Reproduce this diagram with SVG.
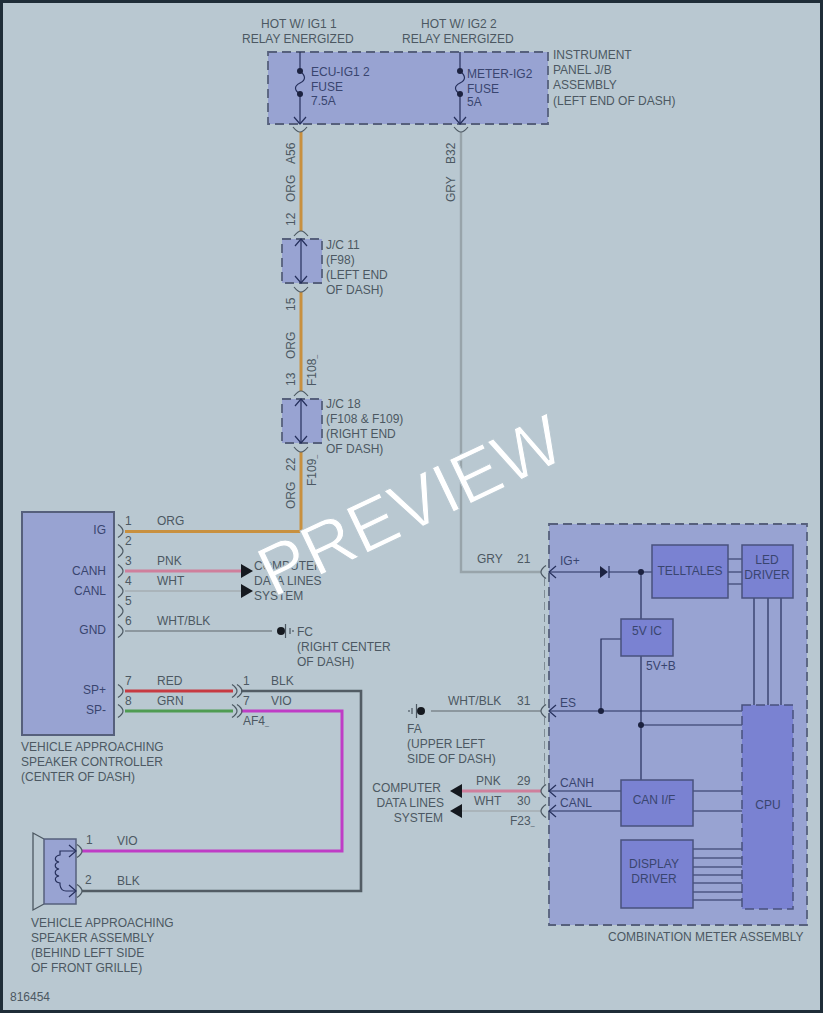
<svg xmlns="http://www.w3.org/2000/svg" xmlns:xlink="http://www.w3.org/1999/xlink" width="823" height="1013" viewBox="0 0 823 1013">
<style>
text{font-family:"Liberation Sans",Arial,sans-serif;font-size:12px;fill:#4c5862}
.i{fill:#39456f}
.m{text-anchor:middle}
.e{text-anchor:end}
.n{fill:none;stroke:#26305c;stroke-width:1.2}
.c{fill:none;stroke:#4c5862;stroke-width:1.2}
.j{fill:#98a3d2;stroke:#56607c;stroke-width:1.8;stroke-dasharray:9 5}
.b{fill:#7a82d2;stroke:#48527e;stroke-width:1.5}
.w{fill:none;stroke-width:3}
.org{stroke:#c8903f}.pnk{stroke:#cf7f9c}.wht{stroke:#aab4ba;stroke-width:2}.gry{stroke:#98a4aa;stroke-width:2.4}
.wb{stroke:#8c979e;stroke-width:2}.red{stroke:#c73a42}.grn{stroke:#4f9c52}.vio{stroke:#bf3cc6}.blk{stroke:#525c64;stroke-width:2.6}
.dot{fill:#1c2240}
.mark{font-size:7px}
.wm{font-size:71px;fill:#fff;stroke:#b9c8d1;stroke-width:1}
</style>
<defs>
<path id="ar" d="M0 -6.5Q5 -3 5 0Q5 3 0 6.5" class="c"/>
<path id="al" d="M5 -6.5Q0 -3 0 0Q0 3 5 6.5" class="c"/>
<path id="au" d="M-7 0Q-3 5 0 5Q3 5 7 0" class="c"/>
<path id="ad" d="M-7 5Q-3 0 0 0Q3 0 7 5" class="c"/>
<path id="hd" d="M-6 -7L0 0L6 -7" class="n"/>
<path id="hu" d="M-6 7L0 0L6 7" class="n"/>
<path id="hl" d="M7 -6L0 0L7 6" class="n"/>
<path id="hr" d="M-7 -6L0 0L-7 6" class="n"/>
<path id="tr" d="M0 -7L12 0L0 7Z" fill="#15191f"/>
<path id="tl" d="M12 -7L0 0L12 7Z" fill="#15191f"/>
</defs>
<rect x="1.500" y="1.500" width="820" height="1010" fill="#b9c8d1" stroke="#1f2d38" stroke-width="3"/>

<g id="connectors">
<path class="w org" d="M301 132V231M301 292V391M301 452V531.500H125"/>
<path class="w gry" d="M461 132V572H541"/>
<path class="w pnk" d="M125 571H241"/>
<path class="w wht" d="M125 591H241"/>
<path class="w wb" d="M125 631H272"/>
<path class="w red" d="M125 691H233"/>
<path class="w grn" d="M125 711H233"/>
<path class="w blk" d="M241 691H361V891H82"/>
<path class="w vio" d="M241 711H342V851H82"/>
<path class="w wb" d="M431 711H541"/>
<path class="w pnk" d="M462 791H541"/>
<path class="w wht" d="M462 811H541"/>
<use xlink:href="#tr" x="241" y="571"/>
<use xlink:href="#tr" x="241" y="591"/>
<use xlink:href="#tl" x="450" y="791"/>
<use xlink:href="#tl" x="450" y="811"/>
<use xlink:href="#au" x="300" y="127"/>
<use xlink:href="#au" x="461" y="127"/>
<use xlink:href="#ad" x="301" y="231"/>
<use xlink:href="#au" x="301" y="287"/>
<use xlink:href="#ad" x="301" y="391"/>
<use xlink:href="#au" x="301" y="447"/>
<use xlink:href="#ar" x="118" y="531"/>
<use xlink:href="#ar" x="118" y="551"/>
<use xlink:href="#ar" x="118" y="571"/>
<use xlink:href="#ar" x="118" y="591"/>
<use xlink:href="#ar" x="118" y="611"/>
<use xlink:href="#ar" x="118" y="631"/>
<use xlink:href="#ar" x="118" y="691"/>
<use xlink:href="#ar" x="118" y="711"/>
<use xlink:href="#ar" x="232" y="691"/>
<use xlink:href="#ar" x="237" y="691"/>
<use xlink:href="#ar" x="232" y="711"/>
<use xlink:href="#ar" x="237" y="711"/>
<use xlink:href="#ar" x="77" y="851"/>
<use xlink:href="#ar" x="77" y="891"/>
<use xlink:href="#al" x="541" y="572"/>
<use xlink:href="#al" x="541" y="711"/>
<use xlink:href="#al" x="541" y="791"/>
<use xlink:href="#al" x="541" y="811"/>
<path d="M544.500 578V705M544.500 717V785" fill="none" stroke="#7f8c95" stroke-width="1" stroke-dasharray="8 4"/>
</g>

<g id="labels-hot">
<text x="261" y="28">HOT W/ IG1 1</text><text x="242" y="43">RELAY ENERGIZED</text>
<text x="421" y="28">HOT W/ IG2 2</text><text x="402" y="43">RELAY ENERGIZED</text>
</g>

<g id="junction-block">
<rect class="j" x="268" y="52" width="280" height="72"/>
<path class="n" d="M300 52V71C306 76 306 80 300 83C294 86 294 90 300 94V124"/>
<path class="n" d="M460 52V71C466 76 466 80 460 83C454 86 454 90 460 94V124"/>
<circle class="dot" cx="300" cy="71" r="3"/><circle class="dot" cx="300" cy="94" r="3"/>
<circle class="dot" cx="460" cy="71" r="3"/><circle class="dot" cx="460" cy="94" r="3"/>
<use xlink:href="#hd" x="300" y="124"/><use xlink:href="#hd" x="460" y="124"/>
<text class="i" x="311" y="76">ECU-IG1 2</text><text class="i" x="311" y="91">FUSE</text><text class="i" x="311" y="105">7.5A</text>
<text class="i" x="467" y="78">METER-IG2</text><text class="i" x="467" y="93">FUSE</text><text class="i" x="467" y="106">5A</text>
<text x="553" y="59">INSTRUMENT</text><text x="553" y="74">PANEL J/B</text><text x="553" y="89">ASSEMBLY</text><text x="553" y="105">(LEFT END OF DASH)</text>
</g>

<g id="wire-labels-vertical">
<text transform="translate(295,164) rotate(-90)">A56</text>
<text transform="translate(295,202) rotate(-90)">ORG</text>
<text transform="translate(455,164) rotate(-90)">B32</text>
<text transform="translate(455,202) rotate(-90)">GRY</text>
<text transform="translate(295,226) rotate(-90)">12</text>
<text transform="translate(295,311) rotate(-90)">15</text>
<text transform="translate(295,359) rotate(-90)">ORG</text>
<text transform="translate(295,386) rotate(-90)">13</text>
<text transform="translate(316,386) rotate(-90)">F108<tspan class="mark">_</tspan></text>
<text transform="translate(295,471) rotate(-90)">22</text>
<text transform="translate(295,509) rotate(-90)">ORG</text>
<text transform="translate(316,486) rotate(-90)">F109<tspan class="mark">_</tspan></text>
</g>

<g id="jc-11">
<rect class="j" x="282" y="239" width="40" height="44"/>
<path class="n" d="M301 239V283"/><use xlink:href="#hu" x="301" y="239"/><use xlink:href="#hd" x="301" y="283"/>
<text x="326" y="249">J/C 11</text><text x="326" y="264">(F98)</text><text x="326" y="279">(LEFT END</text><text x="326" y="294">OF DASH)</text>
</g>
<g id="jc-18">
<rect class="j" x="282" y="399" width="40" height="44"/>
<path class="n" d="M301 399V443"/><use xlink:href="#hu" x="301" y="399"/><use xlink:href="#hd" x="301" y="443"/>
<text x="326" y="408">J/C 18</text><text x="326" y="423">(F108 &amp; F109)</text><text x="326" y="438">(RIGHT END</text><text x="326" y="453">OF DASH)</text>
</g>

<g id="controller">
<rect x="22" y="512" width="92" height="223" fill="#98a3d2" stroke="#56607c" stroke-width="2"/>
<text class="i e" x="106" y="534">IG</text><text class="i e" x="106" y="575">CANH</text><text class="i e" x="106" y="595">CANL</text>
<text class="i e" x="106" y="634">GND</text><text class="i e" x="106" y="694">SP+</text><text class="i e" x="106" y="714">SP-</text>
<text x="21" y="751">VEHICLE APPROACHING</text><text x="21" y="766">SPEAKER CONTROLLER</text><text x="21" y="781">(CENTER OF DASH)</text>
</g>

<g id="controller-wire-labels">
<text x="125" y="525">1</text><text x="125" y="545">2</text><text x="125" y="565">3</text><text x="125" y="585">4</text><text x="125" y="605">5</text><text x="125" y="625">6</text><text x="125" y="685">7</text><text x="125" y="705">8</text>
<text x="157" y="525">ORG</text><text x="157" y="565">PNK</text><text x="157" y="585">WHT</text><text x="157" y="625">WHT/BLK</text><text x="157" y="685">RED</text><text x="157" y="705">GRN</text>
<text x="243" y="685">1</text><text x="271" y="685">BLK</text><text x="243" y="705">7</text><text x="271" y="705">VIO</text>
<text x="243" y="725">AF4<tspan class="mark">_</tspan></text>
<text x="254" y="570">COMPUTER</text><text x="254" y="585">DATA LINES</text><text x="254" y="600">SYSTEM</text>
</g>

<g id="ground-fc">
<circle cx="281" cy="631" r="4" fill="#15191f"/>
<path class="c" d="M285.500 624V638M290 628V634M293 630V632"/>
<text x="297" y="636">FC</text><text x="297" y="651">(RIGHT CENTER</text><text x="297" y="666">OF DASH)</text>
</g>

<g id="ground-fa">
<circle cx="421" cy="711" r="4" fill="#15191f"/>
<path class="c" d="M416.500 704V718M412 708V714M409 710V712"/>
<text x="407" y="733">FA</text><text x="407" y="748">(UPPER LEFT</text><text x="407" y="763">SIDE OF DASH)</text>
</g>

<g id="meter-wire-labels">
<text x="477" y="563">GRY</text><text x="517" y="563">21</text>
<text x="448" y="705">WHT/BLK</text><text x="517" y="705">31</text>
<text x="476" y="785">PNK</text><text x="517" y="785">29</text>
<text x="474" y="805">WHT</text><text x="517" y="805">30</text>
<text x="510" y="825">F23<tspan class="mark">_</tspan></text>
<text class="e" x="441" y="792">COMPUTER</text><text class="e" x="444" y="807">DATA LINES</text><text class="e" x="443" y="822">SYSTEM</text>
</g>

<g id="combination-meter">
<rect class="j" x="549" y="524" width="258" height="401"/>
<path class="n" d="M549 572H600M609 572H652M641 572V619M641 656V780M621 639H601V711M549 711H742M641 725H742M549 791H621M549 811H621M693 791H742M693 811H742"/>
<path class="n" d="M728 559H742M728 572H742M728 584H742M754 598V705M768 598V705M781 598V705"/>
<path class="n" d="M693 849H742M693 858H742M693 867H742M693 875H742M693 883H742M693 892H742M693 900H742"/>
<path d="M600 566L608 572L600 578Z" fill="#1c2240"/><path class="n" d="M609 566V578"/>
<circle class="dot" cx="641" cy="572" r="3"/><circle class="dot" cx="601" cy="711" r="3"/><circle class="dot" cx="641" cy="725" r="3"/>
<use xlink:href="#hl" x="549" y="572"/><use xlink:href="#hl" x="549" y="711"/><use xlink:href="#hl" x="549" y="791"/><use xlink:href="#hl" x="549" y="811"/>
<text class="i" x="560" y="565">IG+</text><text class="i" x="560" y="707">ES</text><text class="i" x="560" y="787">CANH</text><text class="i" x="560" y="807">CANL</text>
<text class="i" x="646" y="670">5V+B</text>
<text x="608" y="941">COMBINATION METER ASSEMBLY</text>
</g>
<g id="telltales"><rect class="b" x="652" y="545" width="76" height="53"/><text class="i m" x="690" y="575">TELLTALES</text></g>
<g id="led-driver"><rect class="b" x="742" y="545" width="51" height="53"/><text class="i m" x="767" y="564">LED</text><text class="i m" x="767" y="579">DRIVER</text></g>
<g id="ic-5v"><rect class="b" x="621" y="619" width="52" height="37"/><text class="i m" x="647" y="635">5V IC</text></g>
<g id="can-if"><rect class="b" x="621" y="780" width="72" height="46"/><text class="i m" x="654" y="804">CAN I/F</text></g>
<g id="display-driver"><rect class="b" x="621" y="840" width="72" height="68"/><text class="i m" x="654" y="868">DISPLAY</text><text class="i m" x="654" y="883">DRIVER</text></g>
<g id="cpu"><rect class="b" x="742" y="705" width="51" height="204" stroke-dasharray="9 5"/><text class="i m" x="768" y="809">CPU</text></g>

<g id="speaker">
<path d="M44 839L33 833V910L44 904" fill="none" stroke="#4c5862" stroke-width="1.3"/>
<rect x="44" y="839" width="32" height="65" fill="#98a3d2" stroke="#56607c" stroke-width="1.5"/>
<path class="n" d="M76 851H60V855C54 856 54 861 59 862C54 863 54 868 59 869C54 870 54 875 59 876C54 877 54 882 60 883V885Q61 891 66 891H76"/>
<use xlink:href="#hr" x="76" y="851"/><use xlink:href="#hr" x="76" y="891"/>
<text x="86" y="844">1</text><text x="117" y="845">VIO</text><text x="85" y="884">2</text><text x="117" y="885">BLK</text>
<text x="31" y="927">VEHICLE APPROACHING</text><text x="31" y="942">SPEAKER ASSEMBLY</text><text x="31" y="957">(BEHIND LEFT SIDE</text><text x="31" y="972">OF FRONT GRILLE)</text>
</g>

<text x="10" y="1001">816454</text>
<text class="wm" transform="translate(273,598) rotate(-25.500)">PREVIEW</text>
</svg>
